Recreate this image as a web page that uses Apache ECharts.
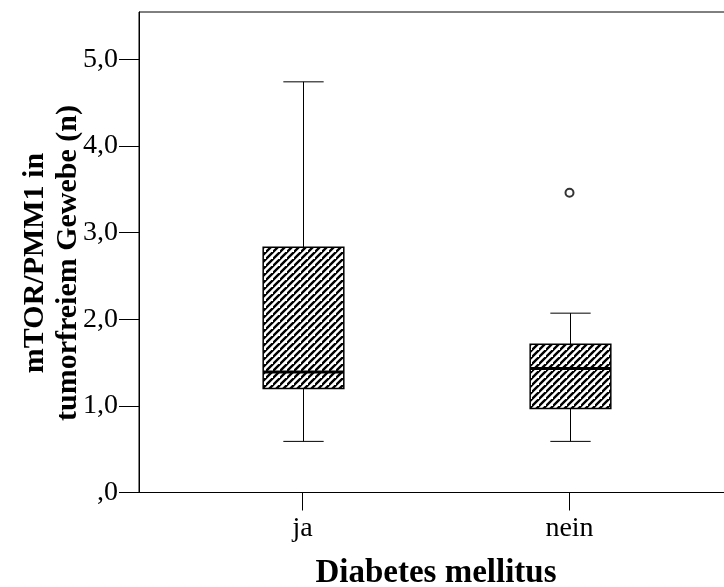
<!DOCTYPE html>
<html><head><meta charset="utf-8">
<script src="https://cdn.jsdelivr.net/npm/echarts@6/dist/echarts.min.js"></script>
<style>html,body{margin:0;padding:0;background:#fff}#c{width:724px;height:587px}</style>
</head><body><div id="c"></div>
<script>
// ---- data ----
const categories = ['ja', 'nein'];
const boxMin    = [0.59, 0.59];
const boxQ1     = [1.20, 0.97];
const boxMedian = [1.39, 1.43];
const boxQ3     = [2.83, 1.71];
const boxMax    = [4.74, 2.07];
const outlierCategory = ['nein'];
const outlierValue    = [3.46];
const yTickValues = [0, 1, 2, 3, 4, 5];
const yTickLabels = [',0', '1,0', '2,0', '3,0', '4,0', '5,0'];
const xTitle = 'Diabetes mellitus';
const yTitle = 'mTOR/PMM1 in\ntumorfreiem Gewebe (n)';

// ---- hatch pattern ----
function makeHatch() {
  const s = 7;
  const cv = document.createElement('canvas');
  cv.width = s; cv.height = s;
  const ctx = cv.getContext('2d');
  ctx.fillStyle = '#fff'; ctx.fillRect(0, 0, s, s);
  ctx.strokeStyle = '#000'; ctx.lineWidth = 2.4;
  ctx.beginPath();
  ctx.moveTo(-1, s + 1); ctx.lineTo(s + 1, -1);
  ctx.moveTo(-1 - s, s + 1); ctx.lineTo(1, -1);
  ctx.moveTo(s - 1, 2 * s + 1); ctx.lineTo(2 * s + 1, s - 1);
  ctx.stroke();
  return cv;
}
const hatch = makeHatch();

const boxSeriesData = categories.map((c, i) => [i, boxMin[i], boxQ1[i], boxMedian[i], boxQ3[i], boxMax[i]]);
const outlierData = outlierCategory.map((c, i) => [categories.indexOf(c), outlierValue[i]]);

const font = 'Liberation Serif';
const yMax = 5.546;
const chart = echarts.init(document.getElementById('c'), null, {renderer: 'canvas'});
const option = {
  animation: false,
  backgroundColor: '#fff',
  grid: [
    {left: 139, top: 12, width: 640, bottom: 94.5, show: true, borderColor: '#000', borderWidth: 1,
     backgroundColor: 'transparent', outerBoundsMode: 'none', containLabel: false},
    {left: 169, top: 12, width: 534, bottom: 94.5, outerBoundsMode: 'none', containLabel: false}
  ],
  xAxis: [
    {gridIndex: 0, type: 'value', min: 0, max: 1, axisLine: {show: true, lineStyle: {color: '#000', width: 1}},
     axisTick: {show: false}, axisLabel: {show: false}, splitLine: {show: false}},
    {gridIndex: 1, type: 'category', data: categories, boundaryGap: true,
     axisLine: {show: false}, axisTick: {show: true, alignWithLabel: true, length: 18, lineStyle: {color: '#000', width: 1}},
     axisLabel: {color: '#000', fontFamily: font, fontSize: 28, margin: 22},
     name: xTitle, nameLocation: 'middle', nameGap: 64,
     nameTextStyle: {color: '#000', fontFamily: font, fontSize: 33, fontWeight: 'bold', verticalAlign: 'top'}}
  ],
  yAxis: [
    {gridIndex: 0, type: 'value', min: 0, max: yMax,
     axisLine: {show: true, lineStyle: {color: '#000', width: 1}},
     axisTick: {show: true, length: 20, customValues: yTickValues, lineStyle: {color: '#000', width: 1}},
     axisLabel: {color: '#000', fontFamily: font, fontSize: 28, margin: 21, customValues: yTickValues,
       padding: [6, 0, 0, 0],
       formatter: (v) => yTickLabels[yTickValues.indexOf(Math.round(v))]},
     splitLine: {show: false}},
    {gridIndex: 1, type: 'value', min: 0, max: yMax, show: false}
  ],
  graphic: [
    {type: 'text', x: 52, y: 263, rotation: Math.PI / 2,
     style: {text: yTitle, fontFamily: font, fontSize: 30, fontWeight: 'bold', fill: '#000',
             textAlign: 'center', textVerticalAlign: 'middle', lineHeight: 33}}
  ],
  series: [
    {
      type: 'custom', xAxisIndex: 1, yAxisIndex: 1,
      data: boxSeriesData,
      encode: {x: 0, y: [1, 2, 3, 4, 5]},
      renderItem: function (params, api) {
        const idx = api.value(0);
        const pMin = api.coord([idx, api.value(1)]);
        const pQ1 = api.coord([idx, api.value(2)]);
        const pMed = api.coord([idx, api.value(3)]);
        const pQ3 = api.coord([idx, api.value(4)]);
        const pMax = api.coord([idx, api.value(5)]);
        const band = api.size([1, 0])[0];
        const bw = band * 0.302;
        const x = Math.round(pMed[0]) + 0.5;
        const ls = {stroke: '#000', lineWidth: 1};
        return {
          type: 'group',
          children: [
            {type: 'line', shape: {x1: x, y1: pMin[1], x2: x, y2: pQ1[1]}, style: ls},
            {type: 'line', shape: {x1: x, y1: pQ3[1], x2: x, y2: pMax[1]}, style: ls},
            {type: 'line', shape: {x1: x - bw / 4, y1: pMin[1], x2: x + bw / 4, y2: pMin[1]}, style: ls},
            {type: 'line', shape: {x1: x - bw / 4, y1: pMax[1], x2: x + bw / 4, y2: pMax[1]}, style: ls},
            {type: 'rect', shape: {x: x - bw / 2, y: pQ3[1], width: bw, height: pQ1[1] - pQ3[1]},
             style: {fill: {image: hatch, repeat: 'repeat'}, stroke: '#000', lineWidth: 1.5}},
            {type: 'line', shape: {x1: x - bw / 2, y1: pMed[1], x2: x + bw / 2, y2: pMed[1]}, style: {stroke: '#000', lineWidth: 3}}
          ]
        };
      }
    },
    {
      type: 'scatter', xAxisIndex: 1, yAxisIndex: 1,
      data: outlierData, symbol: 'emptyCircle', symbolSize: 8,
      itemStyle: {color: '#000', borderColor: '#000', borderWidth: 1}
    }
  ]
};
chart.setOption(option);
</script>
</body></html>
